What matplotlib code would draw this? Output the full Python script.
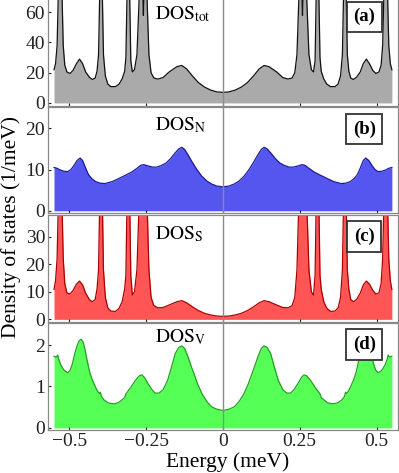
import matplotlib
matplotlib.use("Agg")
import matplotlib.pyplot as plt

plt.rcParams['font.family'] = ['Liberation Serif', 'DejaVu Serif']
plt.rcParams['mathtext.fontset'] = 'stix'

# energy grid shared by DOS_tot and DOS_S (dense near the sharp peaks)
x_peaks = [-0.550, -0.545, -0.540, -0.536, -0.533, -0.530, -0.527, -0.524, -0.520, -0.515,
           -0.508, -0.498, -0.488, -0.477, -0.467, -0.457, -0.447, -0.435, -0.425, -0.416,
           -0.410, -0.405, -0.401, -0.397, -0.393, -0.389, -0.383, -0.375, -0.365, -0.350,
           -0.338, -0.328, -0.320, -0.316, -0.312, -0.308, -0.304, -0.300, -0.295, -0.288,
           -0.280, -0.273, -0.267, -0.262, -0.259, -0.256, -0.252, -0.247, -0.241, -0.234,
           -0.225, -0.212, -0.195, -0.175, -0.150, -0.134, -0.118, -0.100, -0.080, -0.060,
           -0.040, -0.020, 0.000,
           0.020, 0.040, 0.060, 0.080, 0.100, 0.118, 0.134, 0.150, 0.175, 0.195,
           0.212, 0.225, 0.234, 0.241, 0.247, 0.252, 0.256, 0.259, 0.262, 0.267,
           0.273, 0.280, 0.288, 0.295, 0.300, 0.304, 0.308, 0.312, 0.316, 0.320,
           0.328, 0.338, 0.350, 0.365, 0.375, 0.383, 0.389, 0.393, 0.397, 0.401,
           0.405, 0.410, 0.416, 0.425, 0.435, 0.447, 0.457, 0.467, 0.477, 0.488,
           0.498, 0.508, 0.515, 0.520, 0.524, 0.527, 0.530, 0.533, 0.536, 0.540,
           0.545, 0.550]

dos_tot = [22, 26, 38, 72, 100, 130, 100, 72, 38, 25,
           20.5, 19.5, 21.5, 26, 29, 26, 20.5, 17, 15.5, 16.5,
           21, 32, 75, 130, 75, 32, 18, 12.5, 10.8, 10.8,
           12.5, 16, 21, 30, 75, 130, 75, 28, 20.5, 22,
           32, 68, 110, 80, 58, 80, 110, 68, 32, 20,
           16.5, 15.8, 16.8, 20.5, 24, 24.8, 22.5, 18, 13.5, 10.5,
           8.5, 7.3, 7.0,
           7.3, 8.5, 10.5, 13.5, 18, 22.5, 24.8, 24, 20.5, 16.8,
           15.8, 16.5, 20, 32, 68, 110, 80, 58, 80, 110,
           68, 32, 22, 20.5, 28, 75, 130, 75, 30, 21,
           16, 12.5, 10.8, 10.8, 12.5, 18, 32, 75, 130, 75,
           32, 21, 16.5, 15.5, 17, 20.5, 26, 29, 26, 21.5,
           19.5, 20.5, 25, 38, 72, 100, 130, 100, 72, 38,
           26, 22]

dos_s = [10.9, 14, 22, 42, 70, 100, 70, 42, 22, 13,
         9.6, 9.2, 10.5, 12.8, 13.9, 12.5, 9.5, 7.2, 6.4, 7.2,
         11, 18, 45, 90, 45, 18, 8, 4.2, 3.0, 2.9,
         4.0, 6.5, 11, 16, 45, 90, 45, 16, 8.8, 10,
         18, 42, 80, 60, 45, 60, 80, 42, 18, 8,
         5.0, 4.2, 4.3, 5.2, 6.4, 6.8, 6.0, 4.6, 3.2, 2.2,
         1.6, 1.2, 1.1,
         1.2, 1.6, 2.2, 3.2, 4.6, 6.0, 6.8, 6.4, 5.2, 4.3,
         4.2, 5.0, 8, 18, 42, 80, 60, 45, 60, 80,
         42, 18, 10, 8.8, 16, 45, 90, 45, 16, 11,
         6.5, 4.0, 2.9, 3.0, 4.2, 8, 18, 45, 90, 45,
         18, 11, 7.2, 6.4, 7.2, 9.5, 12.5, 13.9, 12.8, 10.5,
         9.2, 9.6, 13, 22, 42, 70, 100, 70, 42, 22,
         14, 10.9]

x_n = [-0.550, -0.540, -0.530, -0.518, -0.505, -0.495, -0.485, -0.475, -0.465, -0.457,
       -0.448, -0.438, -0.427, -0.415, -0.400, -0.384, -0.360, -0.340, -0.318, -0.297,
       -0.280, -0.268, -0.258, -0.245, -0.230, -0.215, -0.200, -0.185, -0.170, -0.156,
       -0.144, -0.134, -0.125, -0.114, -0.100, -0.085, -0.069, -0.052, -0.037, -0.020,
       0.000,
       0.020, 0.037, 0.052, 0.069, 0.085, 0.100, 0.114, 0.125, 0.134, 0.144,
       0.156, 0.170, 0.185, 0.200, 0.215, 0.230, 0.245, 0.258, 0.268, 0.280,
       0.297, 0.318, 0.340, 0.360, 0.384, 0.400, 0.415, 0.427, 0.438, 0.448,
       0.457, 0.465, 0.475, 0.485, 0.495, 0.505, 0.518, 0.530, 0.540, 0.550]
dos_n = [10.5, 10.3, 9.9, 9.6, 9.5, 10.0, 11.0, 12.2, 12.8, 12.2,
         10.5, 8.8, 7.8, 7.1, 6.7, 6.6, 7.1, 7.8, 8.6, 9.4,
         10.3, 11.0, 11.2, 10.9, 10.6, 10.6, 11.0, 11.6, 12.7, 14.0,
         15.0, 15.4, 14.9, 13.6, 11.8, 10.0, 8.4, 7.2, 6.5, 6.0,
         5.8,
         6.0, 6.5, 7.2, 8.4, 10.0, 11.8, 13.6, 14.9, 15.4, 15.0,
         14.0, 12.7, 11.6, 11.0, 10.6, 10.6, 10.9, 11.2, 11.0, 10.3,
         9.4, 8.6, 7.8, 7.1, 6.6, 6.7, 7.1, 7.8, 8.8, 10.5,
         12.2, 12.8, 12.2, 11.0, 10.0, 9.5, 9.6, 9.9, 10.3, 10.5]

x_v = [-0.550, -0.545, -0.541, -0.538, -0.535, -0.528, -0.520, -0.514, -0.505, -0.497,
       -0.490, -0.483, -0.475, -0.468, -0.462, -0.456, -0.450, -0.442, -0.434, -0.425,
       -0.416, -0.408, -0.402, -0.399, -0.396, -0.388, -0.373, -0.355, -0.340, -0.328,
       -0.320, -0.316, -0.312, -0.300, -0.285, -0.272, -0.264, -0.256, -0.245, -0.233,
       -0.221, -0.208, -0.195, -0.180, -0.167, -0.155, -0.144, -0.134, -0.125, -0.114,
       -0.103, -0.093, -0.082, -0.068, -0.052, -0.037, -0.020, 0.000,
       0.020, 0.037, 0.052, 0.068, 0.082, 0.093, 0.103, 0.114, 0.125, 0.134,
       0.144, 0.155, 0.167, 0.180, 0.195, 0.208, 0.221, 0.233, 0.245, 0.256,
       0.264, 0.272, 0.285, 0.300, 0.312, 0.316, 0.320, 0.328, 0.340, 0.355,
       0.373, 0.388, 0.396, 0.399, 0.402, 0.408, 0.416, 0.425, 0.434, 0.442,
       0.450, 0.456, 0.462, 0.468, 0.475, 0.483, 0.490, 0.497, 0.505, 0.514,
       0.520, 0.528, 0.535, 0.538, 0.541, 0.545, 0.550]
dos_v = [1.73, 1.71, 1.72, 1.76, 1.66, 1.52, 1.42, 1.37, 1.33, 1.40,
         1.55, 1.78, 1.98, 2.10, 2.14, 2.08, 1.92, 1.62, 1.35, 1.15,
         1.00, 0.88, 0.83, 0.86, 0.76, 0.68, 0.60, 0.58, 0.61, 0.68,
         0.73, 0.82, 0.86, 0.98, 1.15, 1.26, 1.28, 1.22, 1.08, 0.94,
         0.84, 0.84, 0.92, 1.15, 1.48, 1.80, 1.94, 1.98, 1.92, 1.72,
         1.48, 1.28, 1.05, 0.82, 0.63, 0.51, 0.45, 0.42,
         0.45, 0.51, 0.63, 0.82, 1.05, 1.28, 1.48, 1.72, 1.92, 1.98,
         1.94, 1.80, 1.48, 1.15, 0.92, 0.84, 0.84, 0.94, 1.08, 1.22,
         1.28, 1.26, 1.15, 0.98, 0.86, 0.82, 0.73, 0.68, 0.61, 0.58,
         0.60, 0.68, 0.76, 0.86, 0.83, 0.88, 1.00, 1.15, 1.35, 1.62,
         1.92, 2.08, 2.14, 2.10, 1.98, 1.78, 1.55, 1.40, 1.33, 1.37,
         1.42, 1.52, 1.66, 1.76, 1.72, 1.71, 1.73]

x_ticks = [-0.5, -0.25, 0, 0.25, 0.5]
x_ticklabels = ['\u22120.5', '\u22120.25', '0', '0.25', '0.5']

panels = [
    # x, y, fill, line, ylim, yticks, name, tag, axes rect, name y, tag y
    (x_peaks, dos_tot, '#aaaaaa', '#111111', (-2, 70), [0, 20, 40, 60],
     r'$\mathrm{DOS}_{\mathrm{tot}}$', '(a)', [0.12, 0.776, 0.8775, 0.23], 0.84, 0.82),
    (x_n, dos_n, '#5555f0', '#1a1a99', (-0.5, 25.2), [0, 10, 20],
     r'$\mathrm{DOS}_{\mathrm{N}}$', '(b)', [0.12, 0.550, 0.8775, 0.224], 0.825, 0.79),
    (x_peaks, dos_s, '#ff5555', '#aa0000', (-1, 37.8), [0, 10, 20, 30],
     r'$\mathrm{DOS}_{\mathrm{S}}$', '(c)', [0.12, 0.319, 0.8775, 0.226], 0.827, 0.80),
    (x_v, dos_v, '#55ff55', '#22a022', (-0.05, 2.53), [0, 1, 2],
     r'$\mathrm{DOS}_{\mathrm{V}}$', '(d)', [0.12, 0.091, 0.8775, 0.226], 0.864, 0.80),
]

fig = plt.figure(figsize=(3.99, 4.73), dpi=100)

for i, (xs, ys, fc, lc, ylim, yt, name, tag, rect, ny, ty) in enumerate(panels):
    ax = fig.add_axes(rect)
    ax.fill_between(xs, ys, 0, color=fc, lw=0, zorder=1)
    ax.plot(xs, ys, color=lc, lw=0.9, zorder=2)
    ax.axvline(0, color='#8c8c8c', lw=1.0, zorder=3)
    ax.set_xlim(-0.57, 0.57)
    ax.set_ylim(*ylim)
    ax.set_yticks(yt)
    ax.set_xticks(x_ticks)
    if i == 3:
        ax.set_xticklabels(x_ticklabels)
    else:
        ax.set_xticklabels([])
    ax.tick_params(axis='both', direction='in', length=2.5, width=0.8,
                   labelsize=14, colors='#222222', pad=2)
    for sp in ax.spines.values():
        sp.set_color('#888888')
        sp.set_linewidth(0.9)
    ax.text(0.306, ny, name, transform=ax.transAxes, fontsize=14,
            ha='left', va='center', zorder=5)
    ax.text(0.904, ty, tag, transform=ax.transAxes, fontsize=13.5,
            fontweight='bold', ha='center', va='center', zorder=5,
            bbox=dict(boxstyle='square,pad=0.35', fc='white', ec='#333333', lw=1.3))

fig.text(0.028, 0.52, 'Density of states (1/meV)', rotation=90,
         ha='center', va='center', fontsize=15.5)
fig.text(0.571, 0.022, 'Energy (meV)', ha='center', va='center', fontsize=15.5)

fig.savefig('out.png', dpi=100)
